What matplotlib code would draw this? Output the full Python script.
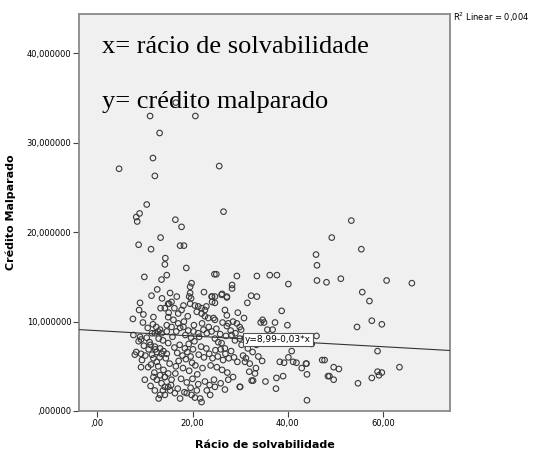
import matplotlib
matplotlib.use("Agg")
import matplotlib.pyplot as plt
import numpy as np

# solvency ratio (x) vs bad credit (y)
racio = [
    11.1, 20.6, 13.1, 11.7, 4.6, 12.1, 10.4, 8.9, 8.2, 8.4, 16.4, 17.7, 13.3, 8.7, 11.3,
    17.4, 18.2, 14.3, 14.2, 18.7, 9.9, 14.6, 13.5, 19.8, 19.5, 24.6, 16.5,
    25.6, 26.5, 53.3, 49.2, 55.4, 45.9, 46.1, 25.0, 29.3, 33.5, 36.2, 37.7, 40.1, 46.1,
    48.1, 51.1, 60.7, 66.0, 55.6, 28.3, 28.3, 22.4, 24.1, 26.2, 27.2, 32.3, 33.5, 57.1,
    57.6, 59.7, 54.5, 58.8, 47.7, 49.6, 50.7, 48.7, 49.6, 54.7, 57.6, 58.8, 59.7, 59.1, 63.4,
    38.7, 34.7, 35.0, 34.3, 37.3, 39.9, 36.8, 35.7, 46.0, 40.8, 47.2, 38.3, 39.2, 41.1, 41.8,
    40.1, 42.9, 43.9, 44.0, 48.4, 39.0, 37.6, 35.3, 37.5, 44.0, 32.7, 32.4, 33.1, 31.9, 33.3,
    30.0, 32.0, 31.0, 45.0, 43.8,
    24.0, 24.7, 24.1, 24.7, 26.1, 27.2, 15.3, 16.7, 19.5, 19.3, 19.7, 15.6, 14.9,
    18.1, 17.7, 17.0, 19.5, 20.5, 21.2, 21.9, 22.6, 22.9, 20.9, 21.9, 22.6, 23.3, 24.4, 24.7,
    26.8, 27.2, 27.5, 27.2, 28.5, 29.3, 29.9, 14.9, 16.0, 17.0, 18.1, 14.6, 15.6,
    20.2, 21.2, 22.3, 23.0, 24.7, 25.4, 26.1, 26.8, 28.2, 28.9, 29.9, 30.3,
    14.9, 15.3, 16.3, 17.4, 18.8, 19.8, 20.9, 21.6, 21.9, 23.0, 23.7, 24.7, 27.5, 28.5, 29.9,
    14.2, 14.9, 15.6,
    9.0, 9.7, 11.8, 13.3, 14.2, 15.1, 11.7, 12.4, 13.2, 7.6, 9.0, 9.2, 11.5, 12.1, 12.8, 13.5,
    14.6, 11.2, 12.1, 13.2, 13.9, 14.6, 13.5, 12.5, 11.5, 8.2, 9.2, 11.8, 12.5, 12.8, 9.2,
    10.7, 11.8, 12.5, 13.2, 14.2, 13.5, 14.2, 12.1, 13.2, 14.2,
    16.2, 16.8, 17.3, 17.9, 18.4, 18.9, 19.2, 19.6, 20.1, 20.4, 18.6, 19.9, 17.1, 16.5, 18.0,
    19.3, 20.6, 21.3, 21.8, 22.4, 22.9, 23.5, 24.2, 24.8, 25.3, 25.9, 26.4, 26.9, 27.6, 28.1,
    28.7, 29.4, 23.8, 25.1, 26.2, 27.3, 22.1, 21.0, 20.0, 18.8, 17.6, 16.4, 15.2, 14.4, 13.1,
    12.2, 11.0, 10.4, 10.1, 11.3, 15.8, 16.6, 17.4, 18.5, 19.1, 19.7, 20.3, 21.4, 22.0, 23.4,
    24.0, 25.0, 25.8, 26.3, 27.0, 28.0, 29.0, 30.2, 31.0, 31.6, 30.6, 31.2, 32.6, 33.8, 34.6,
    33.4, 32.1, 30.8, 29.5, 31.5, 18.2, 19.0, 15.0, 16.2, 13.6, 12.6, 11.4, 10.6, 9.8, 10.8,
    13.8, 14.9, 12.9, 12.0, 13.9, 15.5, 16.9, 18.3, 19.6, 20.5, 21.2, 22.6, 23.6, 24.5, 25.9,
    26.8, 12.9, 13.8, 11.2, 10.0, 9.4, 8.7, 7.9, 9.6, 8.8, 7.5,
]
credito = [
    33.0, 33.0, 31.1, 28.3, 27.1, 26.3, 23.1, 22.1, 21.7, 21.2, 21.4, 20.6, 19.4, 18.6, 18.1,
    18.5, 18.5, 17.1, 16.4, 16.0, 15.0, 15.2, 14.7, 14.3, 13.9, 15.3, 34.5,
    27.4, 22.3, 21.3, 19.4, 18.1, 17.5, 16.3, 15.3, 15.1, 15.1, 15.2, 15.2, 14.2, 14.6,
    14.4, 14.8, 14.6, 14.3, 13.3, 14.1, 13.7, 13.3, 12.8, 13.1, 12.8, 12.9, 12.8, 12.3,
    10.1, 9.7, 9.4, 6.7, 5.7, 4.9, 4.7, 3.9, 3.5, 3.1, 3.7, 4.4, 4.3, 4.0, 4.9,
    11.2, 10.2, 9.9, 9.9, 9.9, 9.6, 9.1, 9.1, 8.4, 6.7, 5.7, 5.5, 5.4, 5.5, 5.4,
    6.0, 4.8, 5.3, 4.1, 3.9, 3.9, 3.7, 3.3, 2.5, 1.2, 3.4, 3.4, 4.2, 4.4, 4.8,
    2.7, 5.3, 5.5, 7.5, 5.3,
    12.8, 12.8, 12.2, 12.1, 13.0, 12.7, 13.2, 12.8, 13.2, 12.8, 12.6, 12.2, 12.0,
    11.8, 11.3, 10.9, 12.0, 11.8, 11.7, 11.5, 11.3, 11.7, 11.1, 10.9, 10.6, 10.4, 10.4, 10.2,
    11.3, 10.7, 9.8, 9.5, 10.0, 9.8, 9.4, 10.5, 10.2, 9.8, 9.4, 9.6, 9.4,
    8.9, 8.7, 9.1, 8.7, 8.1, 7.7, 7.6, 7.0, 8.5, 7.9, 8.1, 7.4,
    2.7, 2.3, 2.0, 1.4, 2.0, 1.8, 2.3, 1.4, 1.0, 2.3, 1.8, 2.7, 3.5, 3.8, 2.7,
    3.8, 4.2, 3.5,
    12.1, 10.8, 10.5, 11.5, 11.5, 12.0, 9.7, 9.4, 9.1, 8.5, 8.3, 8.0, 8.7, 8.7, 8.9, 8.7,
    8.9, 7.4, 7.2, 7.0, 6.7, 6.4, 6.4, 6.6, 6.3, 6.6, 6.4, 5.9, 5.5, 5.0, 4.9,
    4.9, 3.8, 3.5, 4.0, 3.8, 3.1, 2.7, 2.3, 1.8, 1.8,
    7.1, 6.5, 7.4, 6.2, 7.0, 6.6, 7.5, 6.1, 6.9, 7.8, 5.8, 5.4, 5.6, 5.0, 4.8,
    4.5, 5.1, 6.3, 7.2, 6.0, 7.0, 6.4, 5.9, 6.8, 6.1, 6.9, 5.7, 6.4, 5.9, 6.7,
    6.0, 5.5, 5.1, 4.9, 4.6, 4.3, 4.8, 4.1, 3.6, 3.2, 3.6, 4.2, 5.3, 5.9, 6.0,
    6.9, 7.7, 8.2, 6.2, 5.2, 8.3, 8.9, 9.3, 8.5, 9.0, 8.2, 9.6, 8.3, 9.8, 9.4,
    8.9, 9.2, 8.6, 9.9, 8.4, 9.0, 8.7, 9.1, 8.2, 7.0, 6.2, 5.9, 6.6, 6.1, 5.6,
    7.4, 8.0, 10.4, 11.0, 12.1, 10.0, 10.6, 11.0, 11.5, 12.6, 13.6, 12.9, 9.3, 7.3, 6.9,
    7.9, 7.6, 8.1, 4.3, 4.6, 2.9, 2.5, 2.1, 2.6, 1.5, 3.0, 3.3, 2.9, 3.5, 3.1,
    2.4, 1.4, 2.3, 2.8, 3.5, 5.7, 7.8, 6.3, 9.9, 11.3, 10.3,
]

# linear fit as printed in the chart
intercept = 8.99
slope = -0.03
fit_label = "y=8,99-0,03*x"
r2_label = "R$^2$ Linear = 0,004"

x_ticks = [0, 20, 40, 60]
x_ticklabels = [",00", "20,00", "40,00", "60,00"]
y_ticks = [0, 10, 20, 30, 40]
y_ticklabels = [",000000", "10,000000", "20,000000", "30,000000", "40,000000"]

xlim = (-3.8, 74.0)
ylim = (0, 44.4)

fig = plt.figure(figsize=(5.48, 4.51), dpi=100)
ax = fig.add_axes([0.1442, 0.0887, 0.677, 0.880])
ax.set_facecolor("#f0f0f0")

ax.scatter(racio, credito, s=16, facecolors="none", edgecolors="#3a3a3a",
           linewidths=0.8, zorder=3)

xs = np.array(xlim)
ax.plot(xs, intercept + slope * xs, color="#333333", lw=0.8, zorder=4)

ax.set_xlim(*xlim)
ax.set_ylim(*ylim)
ax.set_xticks(x_ticks)
ax.set_xticklabels(x_ticklabels)
ax.set_yticks(y_ticks)
ax.set_yticklabels(y_ticklabels)
ax.tick_params(labelsize=6, length=4, width=0.8, color="#444444", pad=1.5)

for side in ["left", "bottom", "top", "right"]:
    ax.spines[side].set_color("#8a8a8a")
    ax.spines[side].set_linewidth(1.3)

ax.set_xlabel("Rácio de solvabilidade", fontsize=8, fontweight="bold", labelpad=9)
ax.set_ylabel("Crédito Malparado", fontsize=8, fontweight="bold", labelpad=8)

ax.text(31.0, 8.0, fit_label, fontsize=6.5, ha="left", va="center", zorder=5,
        bbox=dict(boxstyle="square,pad=0.25", fc="white", ec="#555555", lw=0.8))

fig.text(0.826, 0.962, r2_label, fontsize=6, ha="left", va="center")

ax.text(0.062, 0.917, "x= rácio de solvabilidade", transform=ax.transAxes,
        family="Liberation Serif", fontsize=19, va="center", zorder=6)
ax.text(0.062, 0.778, "y= crédito malparado", transform=ax.transAxes,
        family="Liberation Serif", fontsize=19, va="center", zorder=6)

fig.savefig("out.png", dpi=100)
